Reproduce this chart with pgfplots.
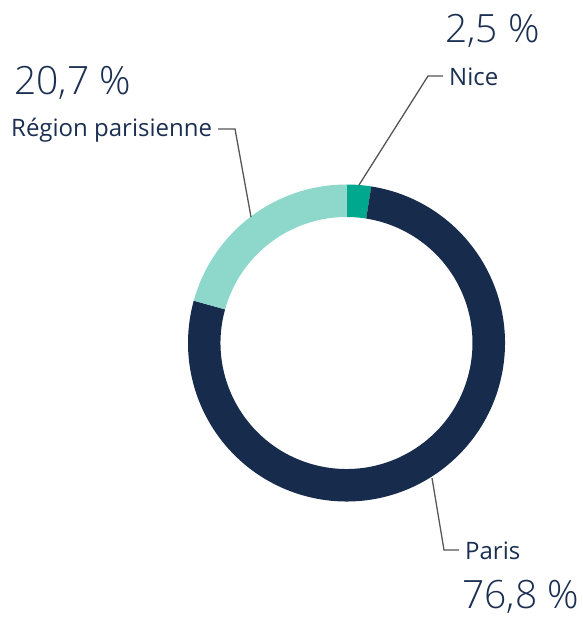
\documentclass[border=0pt]{standalone}
\usepackage{pgfplots}
\pgfplotsset{compat=1.18}
\usepackage{pgfplotstable}
\usepackage{fontspec}
\setmainfont{Open Sans}
\newfontfamily\lightfont{Open Sans Light}
\definecolor{navy}{HTML}{172B4D}
\definecolor{nicegreen}{HTML}{00A88E}
\definecolor{lightteal}{HTML}{8DD8CA}
\definecolor{leader}{HTML}{555555}
\definecolor{txt}{HTML}{1B2F52}

\pgfplotstableread{
label value
Nice 2.5
Paris 76.8
Region 20.7
}\shares

\begin{document}
\begin{tikzpicture}
\useasboundingbox (0,0) rectangle (582pt,619pt);
\pgfplotstablegetelem{0}{value}\of\shares \let\vA\pgfplotsretval
\pgfplotstablegetelem{1}{value}\of\shares \let\vB\pgfplotsretval
\pgfplotstablegetelem{2}{value}\of\shares \let\vC\pgfplotsretval
\pgfmathsetmacro{\aA}{90}
\pgfmathsetmacro{\aB}{90-3.6*\vA}
\pgfmathsetmacro{\aC}{\aB-3.6*\vB}
\pgfmathsetmacro{\aD}{\aC-3.6*\vC}
\def\Ro{158.5pt}
\def\Ri{126pt}
\begin{axis}[at={(0,0)},anchor=south west,x=1pt,y=1pt,xmin=0,xmax=582,ymin=0,ymax=619,hide axis,clip=false]
\fill[nicegreen] ([shift={(\aA:\Ro)}]axis cs:346.5,276) arc[start angle=\aA,end angle=\aB,radius=\Ro]
  -- ([shift={(\aB:\Ri)}]axis cs:346.5,276) arc[start angle=\aB,end angle=\aA,radius=\Ri] -- cycle;
\fill[navy] ([shift={(\aB:\Ro)}]axis cs:346.5,276) arc[start angle=\aB,end angle=\aC,radius=\Ro]
  -- ([shift={(\aC:\Ri)}]axis cs:346.5,276) arc[start angle=\aC,end angle=\aB,radius=\Ri] -- cycle;
\fill[lightteal] ([shift={(\aC:\Ro)}]axis cs:346.5,276) arc[start angle=\aC,end angle=\aD,radius=\Ro]
  -- ([shift={(\aD:\Ri)}]axis cs:346.5,276) arc[start angle=\aD,end angle=\aC,radius=\Ri] -- cycle;
% leader lines
\draw[leader,line width=1.3pt] (axis cs:359,434) -- (axis cs:428,543) -- (axis cs:443,543);
\draw[leader,line width=1.3pt] (axis cs:218,490) -- (axis cs:235,490) -- (axis cs:251,402);
\draw[leader,line width=1.3pt] (axis cs:432,141) -- (axis cs:444,69) -- (axis cs:459,69);
% labels
\node[anchor=base west,inner sep=0pt,text=txt,font=\lightfont\fontsize{39}{44}\selectfont] at (axis cs:445,576) {2,5 \%};
\node[anchor=base west,inner sep=0pt,text=txt,font=\fontsize{24}{28}\selectfont] at (axis cs:449,533) {Nice};
\node[anchor=base west,inner sep=0pt,text=txt,font=\lightfont\fontsize{39}{44}\selectfont] at (axis cs:14,524) {20,7 \%};
\node[anchor=base west,inner sep=0pt,text=txt,font=\fontsize{24}{28}\selectfont] at (axis cs:11,482) {Région parisienne};
\node[anchor=base west,inner sep=0pt,text=txt,font=\fontsize{24}{28}\selectfont] at (axis cs:465,60) {Paris};
\node[anchor=base west,inner sep=0pt,text=txt,font=\lightfont\fontsize{39}{44}\selectfont] at (axis cs:462,11) {76,8 \%};
\end{axis}
\end{tikzpicture}
\end{document}
